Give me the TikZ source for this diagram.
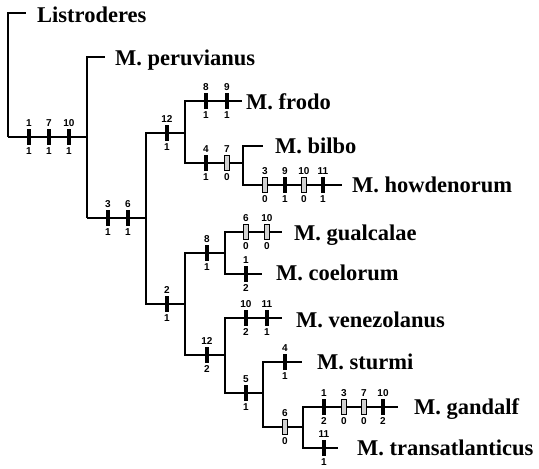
\documentclass[tikz,border=0pt]{standalone}
\usepackage{fontspec}
\setmainfont{Liberation Serif}
\newfontfamily\numfont{Liberation Sans}
\begin{document}
\begin{tikzpicture}[x=1pt,y=-1pt,
  branch/.style={line width=1.5pt},
  taxon/.style={anchor=base west,inner sep=0pt,font=\fontsize{22.5}{24}\selectfont\bfseries},
  num/.style={inner sep=2pt,font=\numfont\fontsize{10}{11}\selectfont\bfseries},
  gain/.style={rectangle,inner sep=0pt,minimum width=4.4pt,minimum height=15.5pt,fill=black},
  rev/.style={rectangle,inner sep=0pt,minimum width=4.6pt,minimum height=15.5pt,draw=black,line width=0.7pt,fill=gray!35},
]
\useasboundingbox (0,0) rectangle (539,469);

% internal nodes of the cladogram
\coordinate (root) at (8,137);
\coordinate (n1) at (87,218);
\coordinate (n2) at (146,218);
\coordinate (n3) at (185,133);
\coordinate (n4) at (243,163);
\coordinate (n6) at (185,304);
\coordinate (n7) at (225,253);
\coordinate (n8) at (225,355);
\coordinate (n9) at (263,393);
\coordinate (n10) at (303,427);
\coordinate (n1in) at (87,137);

% terminal branch ends
\coordinate (eLis) at (26,13);
\coordinate (ePer) at (105,57);
\coordinate (eFro) at (242,101);
\coordinate (eBil) at (263,146);
\coordinate (eHow) at (342,185);
\coordinate (eGua) at (282,232);
\coordinate (eCoe) at (262,274);
\coordinate (eVen) at (282,318);
\coordinate (eStu) at (302,362);
\coordinate (eGan) at (398,407);
\coordinate (eTra) at (338,448);

% branches
\draw[branch] (root) |- (eLis);
\draw[branch] (root) -- (n1in) -- (n1);
\draw[branch] (n1in) |- (ePer);
\draw[branch] (n1) -- (n2);
\draw[branch] (n2) |- (n3);
\draw[branch] (n2) |- (n6);
\draw[branch] (n3) |- (eFro);
\draw[branch] (n3) |- (n4);
\draw[branch] (n4) |- (eBil);
\draw[branch] (n4) |- (eHow);
\draw[branch] (n6) |- (n7);
\draw[branch] (n6) |- (n8);
\draw[branch] (n7) |- (eGua);
\draw[branch] (n7) |- (eCoe);
\draw[branch] (n8) |- (eVen);
\draw[branch] (n8) |- (n9);
\draw[branch] (n9) |- (eStu);
\draw[branch] (n9) |- (n10);
\draw[branch] (n10) |- (eGan);
\draw[branch] (n10) |- (eTra);

% character changes: character number above, state below
\newcommand\chg[5]{\node[#1,label={[num]above:#4},label={[num]below:#5}] (#2) at (#3) {};}
\chg{gain}{a1}{29,137}{1}{1}
\chg{gain}{a2}{49,137}{7}{1}
\chg{gain}{a3}{69,137}{10}{1}
\chg{gain}{b1}{108,218}{3}{1}
\chg{gain}{b2}{128,218}{6}{1}
\chg{gain}{c1}{167,133}{12}{1}
\chg{gain}{d1}{167,304}{2}{1}
\chg{gain}{f1}{206,101}{8}{1}
\chg{gain}{f2}{227,101}{9}{1}
\chg{gain}{g1}{206,163}{4}{1}
\chg{rev}{g2}{227,163}{7}{0}
\chg{rev}{h1}{265,185}{3}{0}
\chg{gain}{h2}{285,185}{9}{1}
\chg{rev}{h3}{304,185}{10}{0}
\chg{gain}{h4}{323,185}{11}{1}
\chg{gain}{i1}{207,253}{8}{1}
\chg{gain}{j1}{207,355}{12}{2}
\chg{rev}{k1}{246,232}{6}{0}
\chg{rev}{k2}{267,232}{10}{0}
\chg{gain}{l1}{246,274}{1}{2}
\chg{gain}{m1}{246,318}{10}{2}
\chg{gain}{m2}{267,318}{11}{1}
\chg{gain}{o1}{246,393}{5}{1}
\chg{gain}{p1}{285,362}{4}{1}
\chg{rev}{q1}{285,427}{6}{0}
\chg{gain}{r1}{324,407}{1}{2}
\chg{rev}{r2}{344,407}{3}{0}
\chg{rev}{r3}{364,407}{7}{0}
\chg{gain}{r4}{383,407}{10}{2}
\chg{gain}{s1}{324,448}{11}{1}

% taxon names
\node[taxon] (tLis) at (37,22.5) {Listroderes};
\node[taxon] (tPer) at (115,65) {M. peruvianus};
\node[taxon] (tFro) at (246,109) {M. frodo};
\node[taxon] (tBil) at (275,153) {M. bilbo};
\node[taxon] (tHow) at (352,192) {M. howdenorum};
\node[taxon] (tGua) at (294,240) {M. gualcalae};
\node[taxon] (tCoe) at (276,280) {M. coelorum};
\node[taxon] (tVen) at (296,327) {M. venezolanus};
\node[taxon] (tStu) at (317,369) {M. sturmi};
\node[taxon] (tGan) at (414,414) {M. gandalf};
\node[taxon] (tTra) at (357,455) {M. transatlanticus};
\end{tikzpicture}
\end{document}
